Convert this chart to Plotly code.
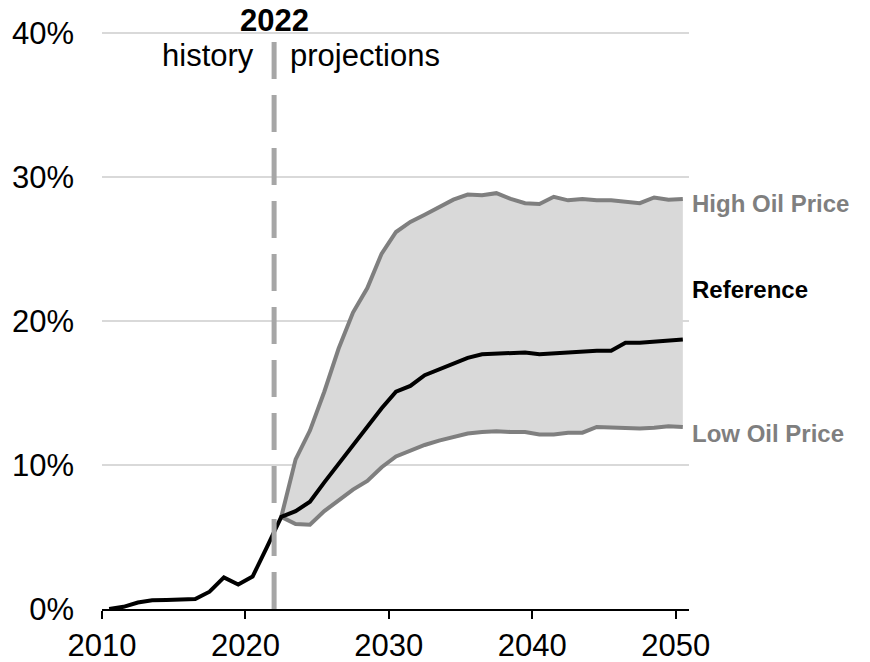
import plotly.graph_objects as go

# ---- data (percent) ----
hist_years = list(range(2010, 2023))
reference_hist = [0.0, 0.15, 0.45, 0.6, 0.62, 0.63, 0.7, 1.2, 2.2, 1.7, 2.25, 4.3, 6.4]

proj_years = list(range(2022, 2051))
reference_proj = [6.4, 6.8, 7.45, 8.8, 10.1, 11.4, 12.7, 13.95, 15.1, 15.5, 16.25, 16.65, 17.1,
                  17.45, 17.7, 17.76, 17.8, 17.83, 17.7, 17.75, 17.87, 17.92, 17.94, 17.94,
                  18.5, 18.5, 18.56, 18.65, 18.73]
high_oil = [6.4, 10.4, 12.4, 15.1, 18.1, 20.6, 22.3, 24.7, 26.2, 26.9, 27.4, 27.9, 28.45,
            28.8, 28.75, 28.9, 28.5, 28.2, 28.15, 28.65, 28.4, 28.5, 28.4, 28.4,
            28.3, 28.2, 28.6, 28.45, 28.5]
low_oil = [6.4, 5.9, 5.85, 6.8, 7.55, 8.3, 8.9, 9.85, 10.6, 11.0, 11.4, 11.7, 11.95,
           12.2, 12.3, 12.35, 12.3, 12.3, 12.13, 12.13, 12.25, 12.25, 12.65, 12.6,
           12.55, 12.55, 12.6, 12.7, 12.65]

x_ticks = [2010, 2020, 2030, 2040, 2050]
y_ticks = [0, 10, 20, 30, 40]
y_tick_text = ["0%", "10%", "20%", "30%", "40%"]
split_year = 2022
MID = 0.5  # annual values plotted at mid-year

ref_years = hist_years + proj_years[1:]
ref_vals = reference_hist + reference_proj[1:]
xr = [y + MID for y in ref_years]
xp = [y + MID for y in proj_years]

FONT = "Arial, 'Liberation Sans', sans-serif"
GRAY = "#7f7f7f"

fig = go.Figure()
fig.add_trace(go.Scatter(x=xp, y=low_oil, mode="lines", line=dict(width=0),
                         showlegend=False, hoverinfo="skip"))
fig.add_trace(go.Scatter(x=xp, y=high_oil, mode="lines", line=dict(width=0),
                         fill="tonexty", fillcolor="#d9d9d9",
                         showlegend=False, hoverinfo="skip"))
fig.add_trace(go.Scatter(x=xp, y=low_oil, mode="lines", name="Low Oil Price",
                         line=dict(color=GRAY, width=4), showlegend=False))
fig.add_trace(go.Scatter(x=xp, y=high_oil, mode="lines", name="High Oil Price",
                         line=dict(color=GRAY, width=4), showlegend=False))
fig.add_trace(go.Scatter(x=xr, y=ref_vals, mode="lines", name="Reference",
                         line=dict(color="black", width=4), showlegend=False))

fig.add_shape(type="line", xref="x", yref="y", x0=split_year, x1=split_year,
              y0=39.4, y1=0, line=dict(color="#a6a6a6", width=5, dash="37px,16px"),
              layer="above")

fig.add_annotation(x=split_year, y=40, xref="x", yref="y", text="<b>2022</b>",
                   showarrow=False, yshift=13, borderpad=0,
                   font=dict(size=31, color="black", family=FONT))
fig.add_annotation(x=split_year, y=40, xref="x", yref="y", text="history",
                   showarrow=False, xanchor="right", xshift=-18, yshift=-22,
                   font=dict(size=31, color="black", family=FONT))
fig.add_annotation(x=split_year, y=40, xref="x", yref="y", text="projections",
                   showarrow=False, xanchor="left", xshift=14, yshift=-22,
                   font=dict(size=31, color="black", family=FONT))

end_x = proj_years[-1] + MID
for txt, yv, col in [("High Oil Price", 28.2, GRAY), ("Reference", 22.2, "black"),
                     ("Low Oil Price", 12.2, GRAY)]:
    fig.add_annotation(x=end_x, y=yv, xref="x", yref="y", text=f"<b>{txt}</b>",
                       showarrow=False, xanchor="left", xshift=7,
                       font=dict(size=24, color=col, family=FONT))

# page body has an 8px margin, so the plot box is shifted up/left by 8px
fig.update_layout(
    width=870, height=662,
    margin=dict(l=94, r=189, t=24, b=61, autoexpand=False),
    plot_bgcolor="white", paper_bgcolor="white",
    font=dict(family=FONT, color="black"),
    showlegend=False,
)
fig.update_xaxes(range=[2010, 2050.93], tickvals=x_ticks, showgrid=False,
                 showline=True, linecolor="black", linewidth=2,
                 ticks="outside", ticklen=8, tickwidth=2, tickcolor="black",
                 tickfont=dict(size=31, color="black"), zeroline=False,
                 automargin=False)
fig.update_yaxes(range=[0, 40.1], tickvals=y_ticks, ticktext=y_tick_text,
                 showgrid=True, gridcolor="#d9d9d9", gridwidth=1.5,
                 showline=False, zeroline=False, ticks="",
                 ticklabelstandoff=27, automargin=False,
                 tickfont=dict(size=31, color="black"))

fig.write_html("out.html")
